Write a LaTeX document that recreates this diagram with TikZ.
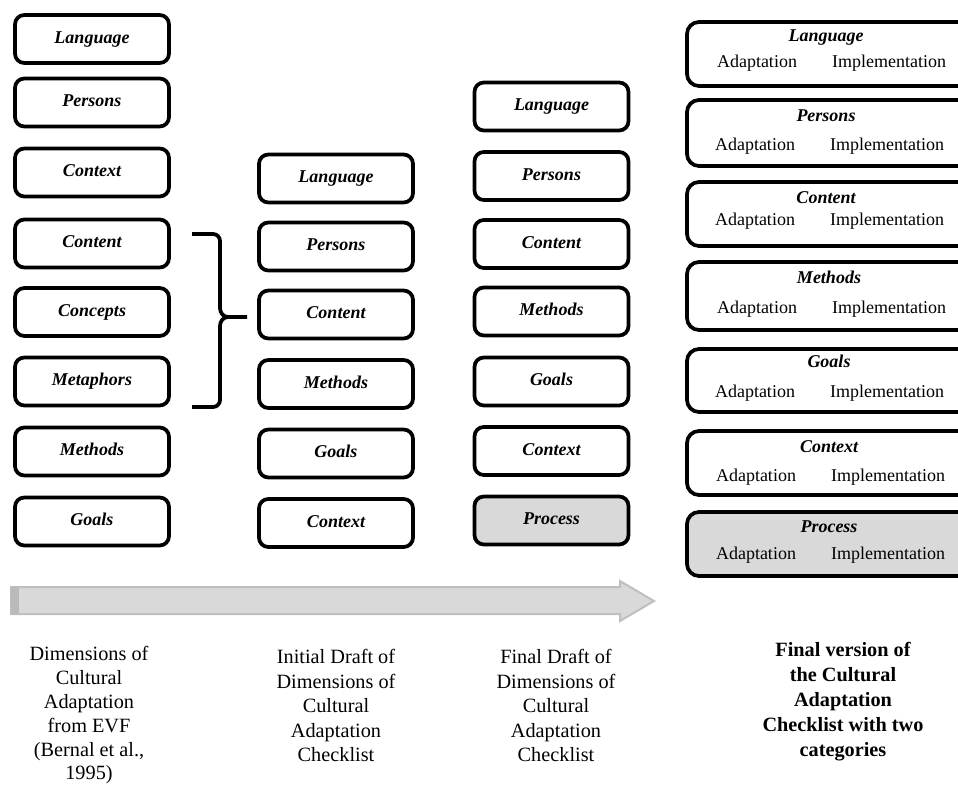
\documentclass[tikz,border=0pt]{standalone}
\usepackage{fontspec}
\setmainfont{Liberation Serif}
\begin{document}
\begin{tikzpicture}[x=0.75pt,y=-0.75pt,
  box/.style={draw, line width=2.8pt, rounded corners=7pt, minimum width=115.5pt,
    minimum height=36pt, inner sep=0pt, text height=9.5pt, text depth=3pt,
    font=\fontsize{13.5}{16}\selectfont\bfseries\itshape},
  wbox/.style={draw, line width=2.8pt, rounded corners=9pt, minimum width=213pt,
    inner sep=0pt},
  shaded/.style={fill=black!15},
  wtitle/.style={inner sep=0pt, text height=9.5pt, text depth=3pt,
    font=\fontsize{13.5}{16}\selectfont\bfseries\itshape},
  wcat/.style={inner sep=0pt, text height=9.5pt, text depth=3pt,
    font=\fontsize{13.5}{16}\selectfont},
  caption/.style={inner sep=0pt, anchor=north, align=center,
    font=\fontsize{15.2}{18.4}\selectfont},
  bcaption/.style={inner sep=0pt, anchor=north, align=center,
    font=\fontsize{15.2}{18.8}\selectfont\bfseries},
  bracepath/.style={line width=2.8pt, line join=round}
]
\useasboundingbox (0,0) rectangle (958,788);
\clip (0,0) rectangle (958,788);

% column 1
\node[box] (a1) at (92,39) {Language};
\node[box] (a2) at (92,102.5) {Persons};
\node[box] (a3) at (92,172.5) {Context};
\node[box] (a4) at (92,243.5) {Content};
\node[box] (a5) at (92,312) {Concepts};
\node[box] (a6) at (92,381.5) {Metaphors};
\node[box] (a7) at (92,451.5) {Methods};
\node[box] (a8) at (92,521.5) {Goals};

% column 2
\node[box] (b1) at (336,178.5) {Language};
\node[box] (b2) at (336,246.5) {Persons};
\node[box] (b3) at (336,314.5) {Content};
\node[box] (b4) at (336,384) {Methods};
\node[box] (b5) at (336,453.5) {Goals};
\node[box] (b6) at (336,523) {Context};

% column 3
\node[box] (c1) at (551.5,106.5) {Language};
\node[box] (c2) at (551.5,176) {Persons};
\node[box] (c3) at (551.5,244) {Content};
\node[box] (c4) at (551.5,311.5) {Methods};
\node[box] (c5) at (551.5,381.5) {Goals};
\node[box] (c6) at (551.5,451) {Context};
\node[box, shaded] (c7) at (551.5,520.5) {Process};

% brace
\draw[bracepath] (192,234) -- (213,234) to[out=0,in=90] (220,241) -- (220,308)
  to[out=-90,in=180] (228,317) -- (247,317);
\draw[bracepath] (192,407) -- (213,407) to[out=0,in=-90] (220,400) -- (220,326)
  to[out=90,in=180] (228,317);

% column 4
\node[wbox, minimum height=48pt] (d1) at (829,54) {};
\node[wbox, minimum height=49.5pt] (d2) at (829,133) {};
\node[wbox, minimum height=48pt] (d3) at (829,214) {};
\node[wbox, minimum height=51pt] (d4) at (829,296) {};
\node[wbox, minimum height=47.25pt] (d5) at (829,380.5) {};
\node[wbox, minimum height=48pt] (d6) at (829,463) {};
\node[wbox, shaded, minimum height=48pt] (d7) at (829,544) {};

\node[wtitle] (d1t) at (826,37) {Language};
\node[wcat] (d1a) at (757,63) {Adaptation};
\node[wcat] (d1i) at (889,63) {Implementation};

\node[wtitle] (d2t) at (826,117) {Persons};
\node[wcat] (d2a) at (755,146) {Adaptation};
\node[wcat] (d2i) at (887,146) {Implementation};

\node[wtitle] (d3t) at (826,199) {Content};
\node[wcat] (d3a) at (755,221) {Adaptation};
\node[wcat] (d3i) at (887,221) {Implementation};

\node[wtitle] (d4t) at (829,279) {Methods};
\node[wcat] (d4a) at (757,309) {Adaptation};
\node[wcat] (d4i) at (889,309) {Implementation};

\node[wtitle] (d5t) at (829,363) {Goals};
\node[wcat] (d5a) at (755,393) {Adaptation};
\node[wcat] (d5i) at (887,393) {Implementation};

\node[wtitle] (d6t) at (829,448) {Context};
\node[wcat] (d6a) at (756,477) {Adaptation};
\node[wcat] (d6i) at (888,477) {Implementation};

\node[wtitle] (d7t) at (829,528) {Process};
\node[wcat] (d7a) at (756,555) {Adaptation};
\node[wcat] (d7i) at (888,555) {Implementation};

% timeline arrow
\filldraw[fill=black!15, draw=black!25, line width=1.5pt, line join=miter]
  (11,587) -- (620,587) -- (620,581) -- (654,601) -- (620,621) -- (620,614)
  -- (11,614) -- cycle;
\fill[black!27] (11,587) rectangle (19,614);

% captions
\node[caption, font=\fontsize{15.2}{17.9}\selectfont] (t1) at (89,646) {Dimensions of\\Cultural\\Adaptation\\from EVF\\(Bernal et al.,\\1995)};
\node[caption] (t2) at (336,649) {Initial Draft of\\Dimensions of\\Cultural\\Adaptation\\Checklist};
\node[caption] (t3) at (556,649) {Final Draft of\\Dimensions of\\Cultural\\Adaptation\\Checklist};
\node[bcaption] (t4) at (843,642) {Final version of\\the Cultural\\Adaptation\\Checklist with two\\categories};
\end{tikzpicture}
\end{document}
